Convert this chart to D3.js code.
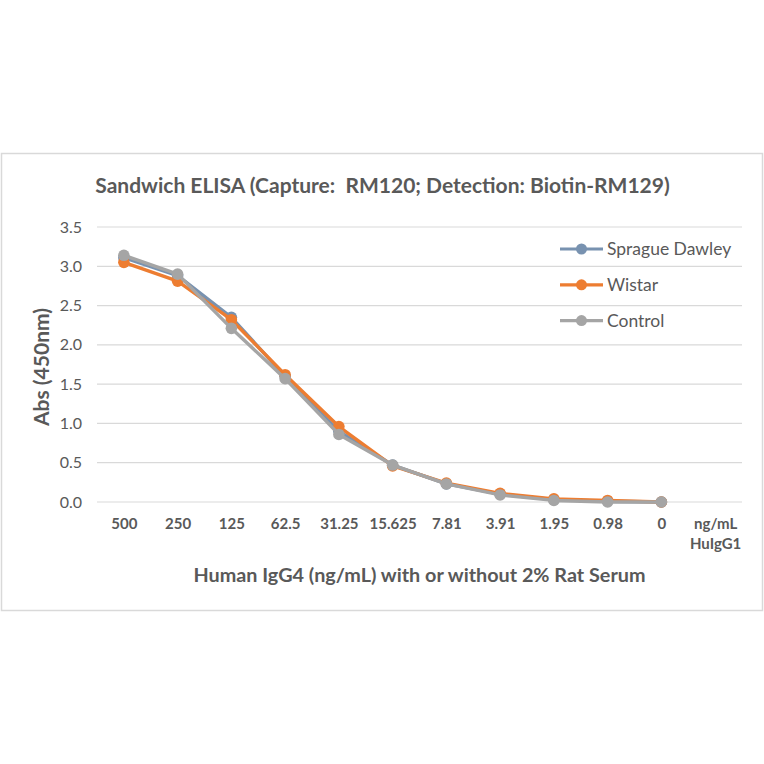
<!DOCTYPE html>
<html><head><meta charset="utf-8">
<script src="https://cdn.jsdelivr.net/npm/d3@7"></script>
<style>body{margin:0;background:#fff}svg{display:block}</style>
</head><body>
<svg id="c" width="764" height="764"></svg>
<script>
const categories = ["500","250","125","62.5","31.25","15.625","7.81","3.91","1.95","0.98","0","ng/mL|HuIgG1"];
const seriesNames = ["Sprague Dawley","Wistar","Control"];
const spragueDawley = [3.11,2.88,2.35,1.60,0.90,0.47,0.23,0.10,0.03,0.01,0.00];
const wistar        = [3.05,2.81,2.32,1.62,0.96,0.46,0.24,0.11,0.04,0.02,0.00];
const control       = [3.14,2.90,2.21,1.57,0.86,0.47,0.23,0.09,0.02,0.00,0.00];
const yTicks = [0,0.5,1,1.5,2,2.5,3,3.5];
const colors = ["#7892b0","#ED7D31","#A5A5A5"];

const svg = d3.select("#c");
const font = "Lato, 'Open Sans', sans-serif";
const txt = "#595959";

svg.append("rect").attr("x",1.5).attr("y",153.5).attr("width",761).attr("height",457)
  .attr("fill","#fff").attr("stroke","#d9d9d9").attr("stroke-width",1.5);

const x = d3.scalePoint().domain(categories).range([97,742]).padding(0.5);
const y = d3.scaleLinear().domain([0,3.5]).range([502,227]);

// gridlines
svg.append("g").selectAll("line").data(yTicks).join("line")
  .attr("x1",97).attr("x2",742).attr("y1",d=>y(d)).attr("y2",d=>y(d))
  .attr("stroke","#d9d9d9").attr("stroke-width",1.2);

// y axis labels
const yAxis = d3.axisLeft(y).tickValues(yTicks).tickFormat(d3.format(".1f")).tickSize(0).tickPadding(0);
const ya = svg.append("g").attr("transform","translate(82,0)").call(yAxis);
ya.select(".domain").remove();
ya.selectAll("text").attr("font-family",font).attr("font-size",16).attr("fill",txt);

// x axis labels
const xAxis = d3.axisBottom(x).tickSize(0).tickPadding(0).tickFormat(()=> "");
const xa = svg.append("g").attr("transform","translate(0,519)").call(xAxis);
xa.select(".domain").remove();
xa.selectAll(".tick text").each(function(d){
  const t = d3.select(this).attr("font-family",font).attr("font-size",15).attr("font-weight","bold").attr("fill",txt).attr("dy","0.71em");
  const parts = d.split("|");
  parts.forEach((p,i)=>{ t.append("tspan").attr("x",0).attr("dy", i===0? "0.68em":"1.35em").text(p); });
});

// series
const allSeries = [spragueDawley, wistar, control];
const line = d3.line().x((d,i)=>x(categories[i])).y(d=>y(d));
allSeries.forEach((s,k)=>{
  const g = svg.append("g");
  g.append("path").attr("d",line(s)).attr("fill","none").attr("stroke",colors[k]).attr("stroke-width",3.4).attr("stroke-linejoin","round");
  g.selectAll("circle").data(s).join("circle")
    .attr("cx",(d,i)=>x(categories[i])).attr("cy",d=>y(d)).attr("r",5.8).attr("fill",colors[k]);
});

// title
svg.append("text").attr("x",382.5).attr("y",193).attr("text-anchor","middle")
  .attr("font-family",font).attr("font-size",21).attr("font-weight","bold").attr("fill",txt)
  .attr("xml:space","preserve")
  .text("Sandwich ELISA (Capture:  RM120; Detection: Biotin-RM129)");

// axis titles
svg.append("text").attr("transform","translate(49,367) rotate(-90)").attr("text-anchor","middle")
  .attr("font-family",font).attr("font-size",21).attr("font-weight","bold").attr("fill",txt)
  .text("Abs (450nm)");
svg.append("text").attr("x",419.5).attr("y",582).attr("text-anchor","middle")
  .attr("font-family",font).attr("font-size",19.8).attr("font-weight","bold").attr("fill",txt)
  .text("Human IgG4 (ng/mL) with or without 2% Rat Serum");

// legend
const leg = svg.append("g");
seriesNames.forEach((n,k)=>{
  const ly = 249 + k*35.8;
  leg.append("line").attr("x1",560).attr("x2",603).attr("y1",ly).attr("y2",ly).attr("stroke",colors[k]).attr("stroke-width",3.2);
  leg.append("circle").attr("cx",581.5).attr("cy",ly).attr("r",5.5).attr("fill",colors[k]);
  leg.append("text").attr("x",607).attr("y",ly).attr("dy","0.35em")
    .attr("font-family",font).attr("font-size",17.5).attr("fill",txt).text(n);
});
</script>
</body></html>
